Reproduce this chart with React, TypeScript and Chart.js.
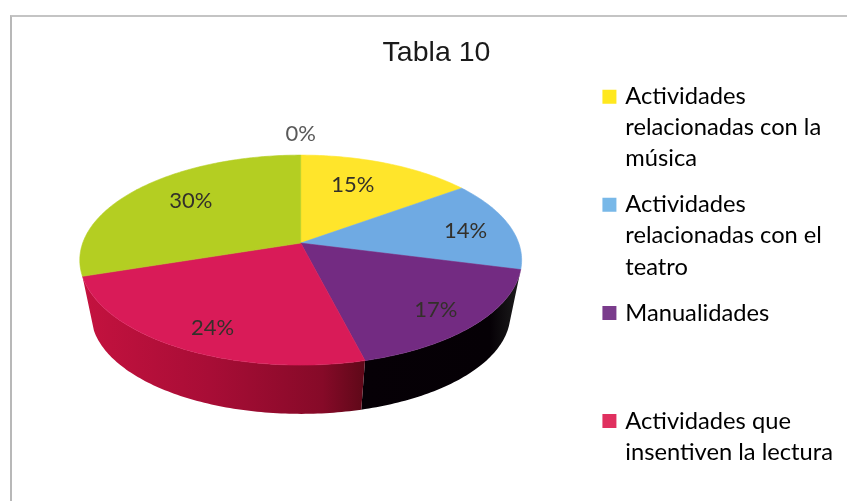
import React, { useEffect, useRef } from "react";
import { Chart, registerables } from "chart.js";

Chart.register(...registerables);

const categories = [
  "Actividades relacionadas con la música",
  "Actividades relacionadas con el teatro",
  "Manualidades",
  "Actividades que insentiven la lectura",
  "Otras actividades",
  "Otros",
];
const values = [15, 14, 17, 24, 30, 0];
const sliceColors = ["#FFE52B", "#6FAAE3", "#732B82", "#D91B58", "#B4CE22", "#4BACC6"];
const legendColors = ["#FFE81E", "#78B8E8", "#7A3C8C", "#E0305F"];
const legendLines = [
  ["Actividades", "relacionadas con la", "música"],
  ["Actividades", "relacionadas con el", "teatro"],
  ["Manualidades", "", ""],
  ["Actividades que", "insentiven la lectura"],
];
const titleText = "Tabla 10";

const sideStops: Record<number, [number, string][]> = {
  0: [[0, "#B39F1A"], [1, "#B39F1A"]],
  1: [[0, "#10233F"], [1, "#2A4A78"]],
  2: [[0, "#060006"], [0.8, "#050005"], [1, "#1E1E1E"]],
  3: [[0, "#C4123F"], [0.45, "#A80D36"], [0.85, "#860A28"], [1, "#5E0818"]],
  4: [[0, "#7A8C14"], [1, "#7A8C14"]],
  5: [[0, "#2F7080"], [1, "#2F7080"]],
};
const labelReach = [0.678, 0.78, 0.816, 0.815, 0.697, 1.29];
const labelTurnDeg = [-4.2, 2, 1.6, -2.9, 3.2, 0];

const pseudo3d = {
  id: "pseudo3d",
  beforeDatasetsDraw(chart: any, _args: any, opts: any) {
    const ctx: CanvasRenderingContext2D = chart.ctx;
    const arcs = chart.getDatasetMeta(0).data;
    const { perspective: p, squash, depth, rimScale, shiftX, shiftY } = opts;
    const project = (arc: any, a: number, t = 1) => {
      const X = Math.cos(a) * t;
      const Y = -Math.sin(a) * t;
      const w = 1 + p * Y;
      return {
        x: arc.x + shiftX + (arc.outerRadius * X) / w,
        y: arc.y + shiftY - (arc.outerRadius * squash * Y) / w,
      };
    };
    const angles = (arc: any) => {
      const n = Math.max(2, Math.ceil((arc.endAngle - arc.startAngle) * 60));
      const list: number[] = [];
      for (let i = 0; i <= n; i++) list.push(arc.startAngle + ((arc.endAngle - arc.startAngle) * i) / n);
      return list;
    };
    ctx.save();
    arcs.forEach((arc: any, i: number) => {
      if (arc.endAngle - arc.startAngle < 1e-6) return;
      const mid = (arc.startAngle + arc.endAngle) / 2;
      if (Math.sin(mid) <= 0) return; // rear slices show no side wall
      const as = angles(arc);
      const top = as.map((a) => project(arc, a));
      const rim = as.map((a) => project(arc, a, rimScale));
      const xs = top.map((q) => q.x);
      const g = ctx.createLinearGradient(Math.min(...xs), 0, Math.max(...xs), 0);
      sideStops[i].forEach(([o, c]) => g.addColorStop(o, c));
      ctx.beginPath();
      top.forEach((q, k) => (k ? ctx.lineTo(q.x, q.y) : ctx.moveTo(q.x, q.y)));
      rim.reverse().forEach((q) => ctx.lineTo(q.x, q.y + depth));
      ctx.closePath();
      ctx.fillStyle = g;
      ctx.fill();
    });
    arcs.forEach((arc: any) => {
      if (arc.endAngle - arc.startAngle < 1e-6) return;
      const pts = angles(arc).map((a) => project(arc, a));
      const apex = project(arc, arc.startAngle, 0);
      ctx.beginPath();
      ctx.moveTo(apex.x, apex.y);
      pts.forEach((q) => ctx.lineTo(q.x, q.y));
      ctx.closePath();
      ctx.fillStyle = arc.options.backgroundColor;
      ctx.strokeStyle = arc.options.backgroundColor;
      ctx.lineWidth = 0.6;
      ctx.fill();
      ctx.stroke();
    });
    ctx.font = '400 22px Lato, "Open Sans", sans-serif';
    ctx.textAlign = "center";
    ctx.textBaseline = "middle";
    arcs.forEach((arc: any, i: number) => {
      const mid = (arc.startAngle + arc.endAngle) / 2 + (labelTurnDeg[i] * Math.PI) / 180;
      const q = project(arc, mid, labelReach[i]);
      ctx.fillStyle = values[i] === 0 ? "#595959" : "#33302A";
      ctx.fillText(`${values[i]}%`, q.x, q.y);
    });
    ctx.restore();
    return false;
  },
};

export default function App() {
  const ref = useRef<HTMLCanvasElement>(null);
  useEffect(() => {
    const chart = new Chart(ref.current as HTMLCanvasElement, {
      type: "pie",
      data: {
        labels: categories,
        datasets: [{ data: values, backgroundColor: sliceColors, borderWidth: 0, radius: 218 }],
      },
      plugins: [pseudo3d],
      options: {
        animation: false,
        responsive: false,
        layout: { padding: { left: 30, right: 4, top: 0, bottom: 0 } },
        plugins: {
          tooltip: { enabled: false },
          title: {
            display: true,
            text: titleText,
            color: "#1a1a1a",
            font: { family: '"Liberation Sans", Arial, sans-serif', size: 28.5, weight: "normal", lineHeight: 1.15 },
            padding: { top: 37, bottom: 0 },
          },
          legend: {
            display: true,
            position: "right",
            align: "start",
            fullSize: false,
            labels: {
              boxWidth: 8,
              boxHeight: 8,
              padding: 15,
              color: "#2b2b2b",
              font: { family: 'Lato, "Open Sans", sans-serif', size: 23.7, lineHeight: 1.31 },
              generateLabels: () =>
                legendLines.map((text, i) => ({
                  text,
                  fillStyle: legendColors[i],
                  strokeStyle: legendColors[i],
                  lineWidth: 6,
                  hidden: false,
                  index: i,
                })),
            },
          },
          pseudo3d: { perspective: 0.162, squash: 0.469, depth: 56, rimScale: 0.95, shiftX: -9.5, shiftY: -42.3 },
        },
      } as any,
    });
    return () => chart.destroy();
  }, []);
  return (
    <div style={{ position: "absolute", left: 0, top: 0, width: 847, height: 501, overflow: "hidden", background: "#fff" }}>
      <canvas ref={ref} width={847} height={501} style={{ display: "block" }} />
      <div style={{ position: "absolute", left: 10, top: 15, right: 0, bottom: 0, borderTop: "2px solid #c4c4c4", borderLeft: "2px solid #b8b8b8", pointerEvents: "none" }} />
    </div>
  );
}
